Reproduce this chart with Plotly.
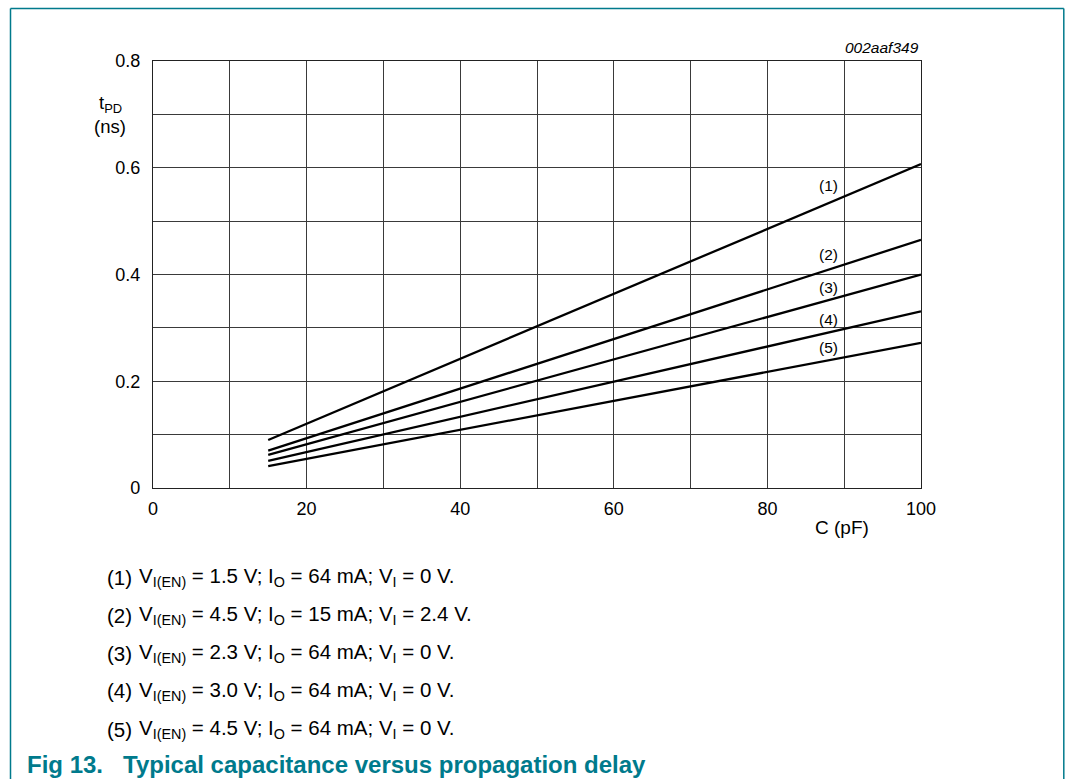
import plotly.graph_objects as go

# Data
cap_pf = [15, 100]
series = {
    "(1)": [0.090, 0.607],
    "(2)": [0.070, 0.465],
    "(3)": [0.062, 0.400],
    "(4)": [0.051, 0.331],
    "(5)": [0.041, 0.272],
}
label_x = [88, 88, 88, 88, 88]
label_y = [0.566, 0.438, 0.376, 0.316, 0.264]
legend_lines = [
    "V<sub>I(EN)</sub> = 1.5 V; I<sub>O</sub> = 64 mA; V<sub>I</sub> = 0 V.",
    "V<sub>I(EN)</sub> = 4.5 V; I<sub>O</sub> = 15 mA; V<sub>I</sub> = 2.4 V.",
    "V<sub>I(EN)</sub> = 2.3 V; I<sub>O</sub> = 64 mA; V<sub>I</sub> = 0 V.",
    "V<sub>I(EN)</sub> = 3.0 V; I<sub>O</sub> = 64 mA; V<sub>I</sub> = 0 V.",
    "V<sub>I(EN)</sub> = 4.5 V; I<sub>O</sub> = 64 mA; V<sub>I</sub> = 0 V.",
]
x_ticks = [0, 20, 40, 60, 80, 100]
y_ticks = [0, 0.2, 0.4, 0.6, 0.8]

W, H = 1065, 779
L, R, T, B = 153, 921, 61, 488
pw, ph = R - L, B - T

def px(xp):
    return (xp - L) / pw

def py(yp):
    return (B - yp) / ph

TEAL = "#007A8C"
FONT = "Liberation Sans, Arial, sans-serif"

fig = go.Figure()
for name, vals in series.items():
    fig.add_trace(go.Scatter(x=cap_pf, y=vals, mode="lines", name=name,
                             line=dict(color="black", width=2.3), showlegend=False))

annotations = []
for (name, _), lx, ly in zip(series.items(), label_x, label_y):
    annotations.append(dict(x=lx, y=ly, xref="x", yref="y", text=name, showarrow=False,
                            xanchor="center", yanchor="middle",
                            font=dict(size=15.5, color="black", family=FONT)))

def note(xp, yp, text, size, xanchor="center", color="black"):
    return dict(x=px(xp), y=py(yp), xref="paper", yref="paper", text=text,
                showarrow=False, xanchor=xanchor, yanchor="middle",
                font=dict(size=size, family=FONT, color=color))

# y axis title
annotations.append(note(110, 104, "t<sub>PD</sub>", 18.5))
annotations.append(note(110, 127, "(ns)", 18.5))
# x axis title
annotations.append(note(842, 527, "C (pF)", 19))
# figure code
annotations.append(note(921, 48, "<i>002aaf349</i>", 15.5, xanchor="right"))

leg_y = [577, 615, 653, 691, 729]
for i, (txt, yy) in enumerate(zip(legend_lines, leg_y)):
    annotations.append(note(105, yy, f"({i+1})", 20.5, xanchor="left"))
    annotations.append(note(137, yy, txt, 20.5, xanchor="left"))

annotations.append(note(25, 764, "<b>Fig 13.   Typical capacitance versus propagation delay</b>",
                        24, xanchor="left", color=TEAL))

shapes = [
    dict(type="line", xref="paper", yref="paper", x0=px(10.5), x1=px(10.5), y0=py(8.5), y1=py(800),
         line=dict(color=TEAL, width=1.5)),
    dict(type="line", xref="paper", yref="paper", x0=px(1063.8), x1=px(1063.8), y0=py(8.5), y1=py(800),
         line=dict(color=TEAL, width=1.5)),
    dict(type="line", xref="paper", yref="paper", x0=px(10.5), x1=px(1063.8), y0=py(8.5), y1=py(8.5),
         line=dict(color=TEAL, width=1.5)),
]

fig.update_layout(
    width=W, height=H,
    margin=dict(l=L, r=W - R, t=T, b=H - B, pad=0),
    paper_bgcolor="white", plot_bgcolor="white",
    font=dict(family=FONT, size=18, color="black"),
    annotations=annotations, shapes=shapes,
    xaxis=dict(range=[0, 100], tickvals=x_ticks, ticktext=[str(v) for v in x_ticks],
               showgrid=True, gridcolor="#3a3a3a", gridwidth=1,
               minor=dict(dtick=10, showgrid=True, gridcolor="#3a3a3a", gridwidth=1),
               showline=True, linecolor="#222", linewidth=1.2, mirror=True,
               zeroline=False, ticks="", ticklabelstandoff=4,
               tickfont=dict(size=18, family=FONT, color="black")),
    yaxis=dict(range=[0, 0.8], tickvals=y_ticks, ticktext=["0", "0.2", "0.4", "0.6", "0.8"],
               showgrid=True, gridcolor="#3a3a3a", gridwidth=1,
               minor=dict(dtick=0.1, showgrid=True, gridcolor="#3a3a3a", gridwidth=1),
               showline=True, linecolor="#222", linewidth=1.2, mirror=True,
               zeroline=False, ticks="", ticklabelstandoff=8,
               tickfont=dict(size=18, family=FONT, color="black")),
)

fig.write_html(
    "out.html",
    config={"displayModeBar": False},
    post_script="document.body.style.margin='0';document.body.style.overflow='hidden';",
)
